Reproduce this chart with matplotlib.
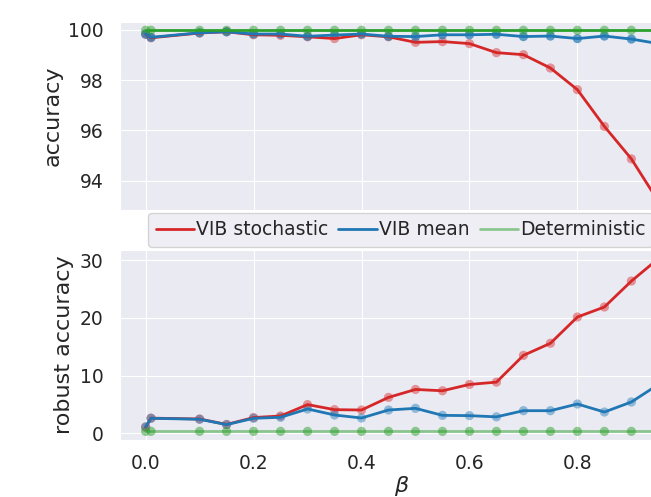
import numpy as np
import matplotlib
matplotlib.use("Agg")
from matplotlib import pyplot as plt
import seaborn as sns

# beta values used in the sweep
beta = [0.0, 0.01, 0.1, 0.15, 0.2, 0.25, 0.3, 0.35, 0.4, 0.45, 0.5,
        0.55, 0.6, 0.65, 0.7, 0.75, 0.8, 0.85, 0.9, 0.95]

# clean accuracy (%)
acc_stoch = [99.82, 99.68, 99.87, 99.92, 99.80, 99.78, 99.72, 99.65, 99.80, 99.72,
             99.50, 99.53, 99.45, 99.09, 99.01, 98.48, 97.62, 96.16, 94.87, 93.18]
acc_mean = [99.83, 99.70, 99.88, 99.92, 99.83, 99.83, 99.74, 99.79, 99.83, 99.74,
            99.73, 99.80, 99.80, 99.82, 99.73, 99.75, 99.65, 99.75, 99.63, 99.45]
acc_det = [99.98] * len(beta)

# robust accuracy (%)
rob_stoch = [1.0, 2.6, 2.45, 1.5, 2.7, 2.97, 4.95, 4.07, 4.01, 6.2,
             7.58, 7.35, 8.45, 8.85, 13.5, 15.6, 20.16, 21.9, 26.4, 30.3]
rob_mean = [1.1, 2.57, 2.4, 1.47, 2.57, 2.74, 4.19, 3.14, 2.62, 4.01,
            4.3, 3.08, 3.03, 2.82, 3.89, 3.89, 5.05, 3.66, 5.4, 8.44]
rob_det = [0.3] * len(beta)

sns.set_style("darkgrid")
plt.rcParams['font.family'] = ['DejaVu Sans']

RED, BLUE, GREEN = '#d62728', '#1f77b4', '#2ca02c'

fig = plt.figure(figsize=(6.51, 4.97), dpi=100)
ax1 = fig.add_axes([120/651, 1-210/497, 564/651, 188.3/497])
ax2 = fig.add_axes([120/651, 1-440/497, 564/651, 190/497], sharex=ax1)

def draw(ax, ys, styles):
    for y, (c, la, ma, lab) in zip(ys, styles):
        ax.plot(beta, y, color=c, lw=2, alpha=la, label=lab)
        ax.scatter(beta, y, s=44, color=c, alpha=ma, edgecolors='none')

draw(ax1, [acc_stoch, acc_mean, acc_det],
     [(RED, 1, 0.45, 'VIB stochastic'), (BLUE, 1, 0.7, 'VIB mean'), (GREEN, 1, 0.5, 'Deterministic')])
draw(ax2, [rob_stoch, rob_mean, rob_det],
     [(RED, 1, 0.45, 'VIB stochastic'), (BLUE, 1, 0.45, 'VIB mean'), (GREEN, 0.5, 0.5, 'Deterministic')])

ax1.set_yticks([94, 96, 98, 100])
ax2.set_yticks([0, 10, 20, 30])
ax2.set_xticks([0.0, 0.2, 0.4, 0.6, 0.8])
plt.setp(ax1.get_xticklabels(), visible=False)

for ax in (ax1, ax2):
    ax.tick_params(labelsize=13.5, colors='#262626', length=0, pad=12)
ax2.tick_params(axis='x', pad=10)

ax1.set_ylabel('accuracy', fontsize=16, color='#262626')
ax2.set_ylabel('robust accuracy', fontsize=16, color='#262626')
ax2.set_xlabel(r'$\beta$', fontsize=16, color='#262626', labelpad=1)

leg = ax2.legend(ncol=3, loc='upper left', bbox_to_anchor=(148/651, 1-212.7/497),
                 bbox_transform=fig.transFigure, borderaxespad=0, fontsize=13.5,
                 handlelength=2.05, columnspacing=0.55, handletextpad=0.1)
leg.get_frame().set_edgecolor('#cccccc')

fig.savefig('out.png', dpi=100)
